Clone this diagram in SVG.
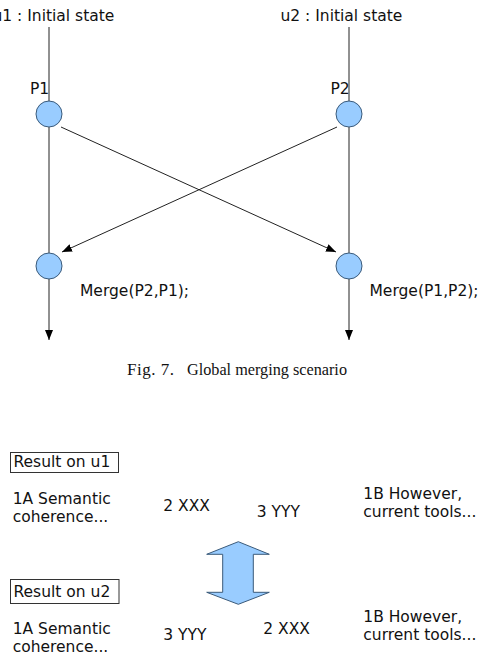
<svg xmlns="http://www.w3.org/2000/svg" width="480" height="658" viewBox="0 0 480 658">
<defs>
<style>
.t{font-family:"DejaVu Sans",sans-serif;font-size:15.5px;fill:#111}
.cap{font-family:"Liberation Serif",serif;font-size:17px;fill:#111}
.ln{stroke:#222;stroke-width:1;fill:none}
.nd{fill:#99ccff;stroke:#3a5a7a;stroke-width:1}
.box{fill:#fff;stroke:#333;stroke-width:1}
</style>
<marker id="ah" markerWidth="10" markerHeight="10" viewBox="0 0 10 10" refX="10" refY="5" orient="auto" markerUnits="userSpaceOnUse">
<path d="M0,1 L10,5 L0,9 Z" fill="#000"/>
</marker>
</defs>
<rect width="480" height="658" fill="#fff"/>
<g id="connectors">
<line class="ln" x1="49" y1="27" x2="49" y2="101"/>
<line class="ln" x1="349" y1="27" x2="349" y2="101"/>
<line class="ln" x1="49" y1="127" x2="49" y2="253"/>
<line class="ln" x1="349" y1="127" x2="349" y2="253"/>
<line class="ln" x1="49" y1="279" x2="49" y2="340" marker-end="url(#ah)"/>
<line class="ln" x1="349" y1="279" x2="349" y2="340" marker-end="url(#ah)"/>
<line class="ln" x1="61" y1="127" x2="336" y2="252" marker-end="url(#ah)"/>
<line class="ln" x1="337" y1="127" x2="62" y2="252" marker-end="url(#ah)"/>
</g>
<g id="u1-title"><text class="t" x="-7.5" y="21">u1 : Initial state</text></g>
<g id="u2-title"><text class="t" x="280.5" y="21">u2 : Initial state</text></g>
<g id="P1"><circle class="nd" cx="49" cy="114" r="13"/><text class="t" x="30" y="94">P1</text></g>
<g id="P2"><circle class="nd" cx="349" cy="114" r="13"/><text class="t" x="330.5" y="94">P2</text></g>
<g id="M1"><circle class="nd" cx="49" cy="266" r="13"/><text class="t" x="80" y="295.5">Merge(P2,P1);</text></g>
<g id="M2"><circle class="nd" cx="349" cy="266" r="13"/><text class="t" x="369.5" y="295.5">Merge(P1,P2);</text></g>
<g id="caption"><text class="cap" y="375"><tspan x="127" textLength="47" lengthAdjust="spacing">Fig. 7.</tspan><tspan x="187" textLength="160" lengthAdjust="spacingAndGlyphs">Global merging scenario</tspan></text></g>
<g id="result-u1">
<rect class="box" x="10.5" y="452.5" width="108" height="20"/>
<text class="t" x="13.5" y="467.3">Result on u1</text>
<text class="t" x="12.7" y="504">1A Semantic</text>
<text class="t" x="12.7" y="522.3">coherence...</text>
<text class="t" x="163.3" y="510.7">2 XXX</text>
<text class="t" x="256.7" y="516.7">3 YYY</text>
<text class="t" x="363.3" y="499">1B However,</text>
<text class="t" x="363.3" y="517.3">current tools...</text>
</g>
<g id="swap-arrow">
<path class="nd" d="M238.3,541.7 L269.3,554.3 L253.3,554.3 L253.3,592.3 L269.3,592.3 L238.3,604.3 L206.7,592.3 L222.7,592.3 L222.7,554.3 L206.7,554.3 Z"/>
</g>
<g id="result-u2">
<rect class="box" x="10.5" y="579.5" width="108.5" height="24"/>
<text class="t" x="13.5" y="596.5">Result on u2</text>
<text class="t" x="12.7" y="634">1A Semantic</text>
<text class="t" x="12.7" y="652.3">coherence...</text>
<text class="t" x="163.3" y="640">3 YYY</text>
<text class="t" x="263.3" y="634">2 XXX</text>
<text class="t" x="363.3" y="621.7">1B However,</text>
<text class="t" x="363.3" y="640">current tools...</text>
</g>
</svg>
